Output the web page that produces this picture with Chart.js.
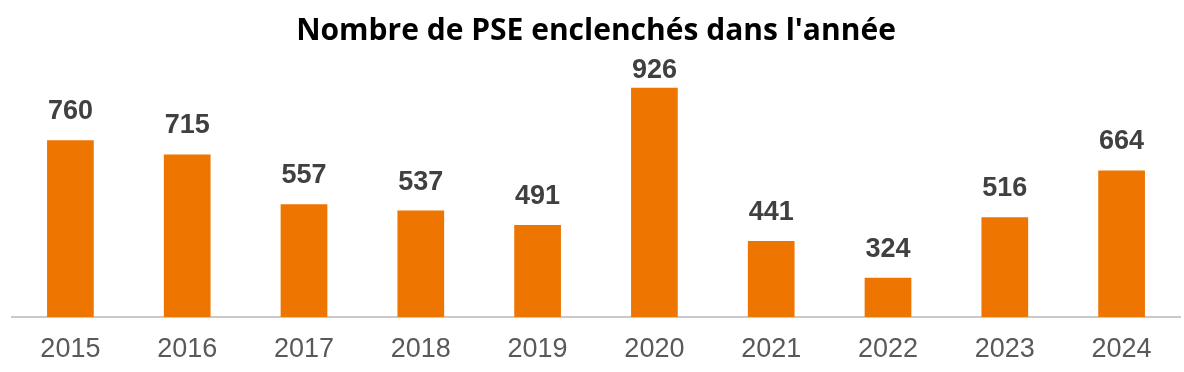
<!DOCTYPE html>
<html>
<head>
<meta charset="utf-8">
<script src="https://cdn.jsdelivr.net/npm/chart.js@4/dist/chart.umd.min.js"></script>
<style>
  html, body { margin: 0; padding: 0; background: #ffffff; }
  #wrap { width: 1184px; height: 372px; }
</style>
</head>
<body>
<div id="wrap"><canvas id="c" width="1184" height="372"></canvas></div>
<script>
const titleText = "Nombre de PSE enclenchés dans l'année";
const years = ["2015", "2016", "2017", "2018", "2019", "2020", "2021", "2022", "2023", "2024"];
const pseCounts = [760, 715, 557, 537, 491, 926, 441, 324, 516, 664];
const yMin = 200;
const yMax = 1000;

const barLabels = {
  id: 'barLabels',
  afterDatasetsDraw(chart) {
    const ctx = chart.ctx;
    const meta = chart.getDatasetMeta(0);
    ctx.save();
    ctx.font = 'bold 27px "Liberation Sans", Arial, sans-serif';
    ctx.fillStyle = '#404040';
    ctx.textAlign = 'center';
    ctx.textBaseline = 'alphabetic';
    meta.data.forEach((bar, i) => {
      const y = Math.max(bar.y - 21, 78);
      ctx.fillText(String(pseCounts[i]), bar.x, y);
    });
    ctx.restore();
  }
};

new Chart(document.getElementById('c'), {
  type: 'bar',
  data: {
    labels: years,
    datasets: [{
      data: pseCounts,
      backgroundColor: 'rgb(238,118,0)',
      borderWidth: 0,
      barPercentage: 0.4,
      categoryPercentage: 1.0
    }]
  },
  options: {
    responsive: false,
    animation: false,
    devicePixelRatio: 1,
    layout: { padding: { left: 12, right: 4, top: 0, bottom: 0 } },
    plugins: {
      legend: { display: false },
      tooltip: { enabled: false },
      title: {
        display: true,
        text: titleText,
        color: '#000000',
        font: { family: '"Open Sans", sans-serif', size: 30, weight: 'bold' },
        padding: { top: 13, bottom: 15.4 }
      }
    },
    scales: {
      x: {
        grid: { display: false, drawTicks: false },
        border: { display: true, color: '#c9c9c9', width: 2 },
        ticks: {
          color: '#595959',
          font: { family: '"Liberation Sans", Arial, sans-serif', size: 27 },
          padding: 16
        },
        afterFit(scale) { scale.height = 55; }
      },
      y: {
        display: false,
        min: yMin,
        max: yMax
      }
    }
  },
  plugins: [barLabels]
});
</script>
</body>
</html>
